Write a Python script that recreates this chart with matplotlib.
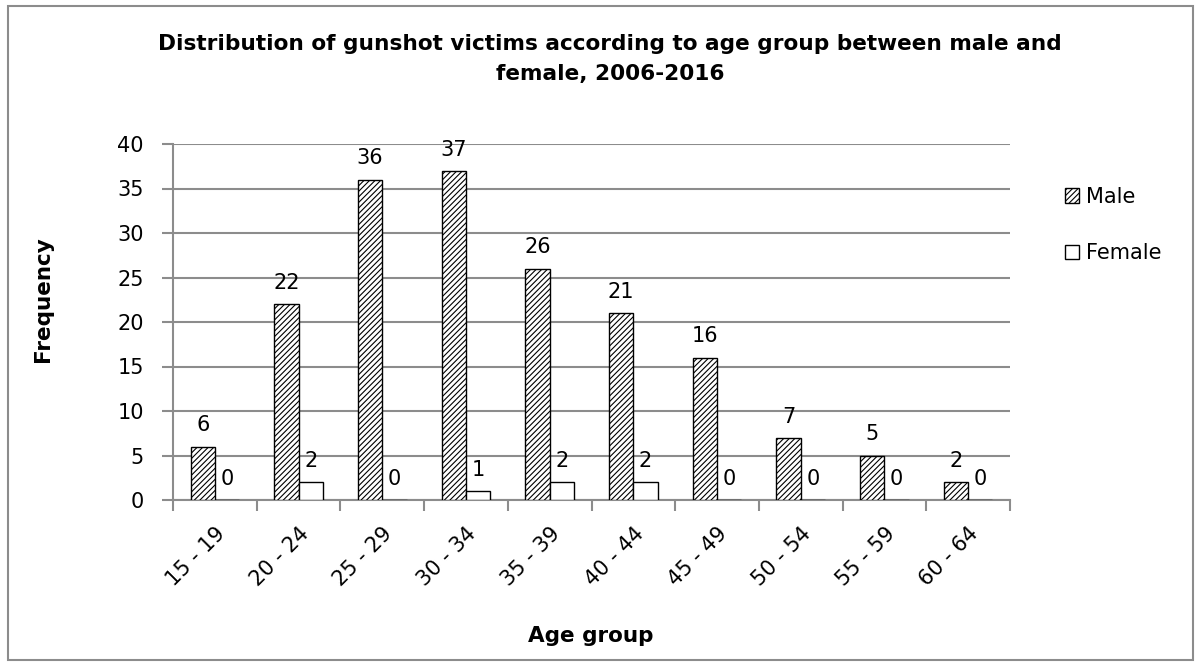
import numpy as np
import matplotlib
matplotlib.use("Agg")
import matplotlib.pyplot as plt
from matplotlib.patches import Rectangle

# --- data ---
age_groups = ["15 - 19", "20 - 24", "25 - 29", "30 - 34", "35 - 39",
              "40 - 44", "45 - 49", "50 - 54", "55 - 59", "60 - 64"]
male = [6, 22, 36, 37, 26, 21, 16, 7, 5, 2]
female = [0, 2, 0, 1, 2, 2, 0, 0, 0, 0]
yticks = [0, 5, 10, 15, 20, 25, 30, 35, 40]

plt.rcParams['font.family'] = ['DejaVu Sans']
plt.rcParams['hatch.linewidth'] = 0.8

fig = plt.figure(figsize=(12.01, 6.68), dpi=100)
ax = fig.add_axes([173/1201, 1 - 500/668, (1010-173)/1201, (500-144)/668])

x = np.arange(len(age_groups))
w = 0.29
grey = '#8c8c8c'

b1 = ax.bar(x - w/2, male, w, facecolor='white', edgecolor='black',
            hatch='//////', linewidth=1.0, label='Male', zorder=3)
b2 = ax.bar(x + w/2, female, w, facecolor='white', edgecolor='black',
            linewidth=1.0, label='Female', zorder=3)

for xi, v in zip(x, male):
    ax.annotate(str(v), (xi - w/2, v), xytext=(0, 8), textcoords='offset points',
                ha='center', va='bottom', fontsize=15)
for xi, v in zip(x, female):
    ax.annotate(str(v), (xi + w/2, v), xytext=(0, 8), textcoords='offset points',
                ha='center', va='bottom', fontsize=15)

ax.set_xlim(-0.5, len(age_groups) - 0.5)
ax.set_ylim(0, 40)
ax.set_yticks(yticks)
ax.yaxis.grid(True, color=grey, linewidth=1.5, zorder=0)
ax.set_axisbelow(True)

# category ticks between groups, labels at centres
ax.set_xticks(np.arange(len(age_groups) + 1) - 0.5)
ax.set_xticklabels([])
ax.set_xticks(x, minor=True)
ax.set_xticklabels(age_groups, minor=True, rotation=45, ha='right',
                   rotation_mode='anchor', fontsize=15)
ax.tick_params(axis='x', which='minor', length=0, pad=17)
ax.tick_params(axis='x', which='major', length=8, color=grey, width=1.5, direction='out')
ax.tick_params(axis='y', length=8, color=grey, width=1.5, labelsize=15, pad=13)

for s in ['top', 'right']:
    ax.spines[s].set_visible(False)
for s in ['left', 'bottom']:
    ax.spines[s].set_color(grey)
    ax.spines[s].set_linewidth(1.5)

fig.text(610/1201, 1 - 59/668,
         "Distribution of gunshot victims according to age group between male and\nfemale, 2006-2016",
         ha='center', va='center', fontsize=15.6, fontweight='bold', linespacing=1.65)
fig.text(43/1201, 1 - 299/668, "Frequency", rotation=90, ha='center', va='center',
         fontsize=15.5, fontweight='bold')
fig.text(591/1201, 1 - 636/668, "Age group", ha='center', va='center',
         fontsize=15.5, fontweight='bold')

leg = fig.legend(handles=[b1, b2], labels=['Male', 'Female'], loc='center left',
                 bbox_to_anchor=(1046/1201, 1 - 225/668), frameon=False, fontsize=15,
                 handlelength=0.7, handleheight=0.7, handletextpad=0.3, labelspacing=1.75)

fig.patches.append(Rectangle((8/1201, 8/668), (1193-8)/1201, (662-8)/668,
                             transform=fig.transFigure, fill=False,
                             edgecolor=grey, linewidth=1.5))

fig.savefig("out.png", dpi=100, facecolor='white')
